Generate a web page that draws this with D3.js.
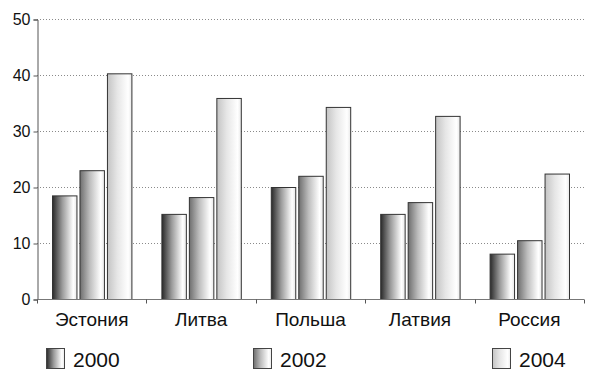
<!DOCTYPE html>
<html>
<head>
    <meta charset="utf-8">
    <script src="https://d3js.org/d3.v7.min.js"></script>
    <style>
        body { margin: 0; background: white; }
        svg { display: block; font-family: 'Liberation Sans', Arial, sans-serif; }
    </style>
</head>
<body>
    <svg width="600" height="377"></svg>

<script>
    let countries = ["Эстония", "Литва", "Польша", "Латвия", "Россия"];
    let years = ["2000", "2002", "2004"];
    let v2000 = [18.5, 15.2, 20.0, 15.2, 8.1];
    let v2002 = [23.0, 18.2, 22.0, 17.3, 10.5];
    let v2004 = [40.3, 35.9, 34.3, 32.7, 22.4];
    let yTicks = [0, 10, 20, 30, 40, 50];

    let series = [v2000, v2002, v2004];
    let rows = countries.map((c, i) => ({ country: c, values: series.map(s => s[i]) }));

    let margin = { top: 19, right: 16, bottom: 78, left: 37 };
    let width = 600, height = 377;

    let svg = d3.select("svg");

    // gradients: dark-ish on the left, fading to white on the right
    let grads = [
        { id: "g2000", from: "#2a2a2a", mid: "#9a9a9a" },
        { id: "g2002", from: "#6e6e6e", mid: "#bdbdbd" },
        { id: "g2004", from: "#c4c4c4", mid: "#e6e6e6" }
    ];
    let defs = svg.append("defs");
    grads.forEach(g => {
        let lg = defs.append("linearGradient").attr("id", g.id)
            .attr("x1", "0%").attr("x2", "100%").attr("y1", "0%").attr("y2", "0%");
        lg.append("stop").attr("offset", "0%").attr("stop-color", g.from);
        lg.append("stop").attr("offset", "40%").attr("stop-color", g.mid);
        lg.append("stop").attr("offset", "85%").attr("stop-color", "#ffffff");
        lg.append("stop").attr("offset", "100%").attr("stop-color", "#e8e8e8");
    });

    let x0 = d3.scaleBand()
        .domain(countries)
        .range([margin.left, width - margin.right]);

    let x1 = d3.scaleBand()
        .domain(years)
        .range([15, x0.bandwidth() - 15])
        .paddingInner(0.11);

    let y = d3.scaleLinear()
        .domain([0, 50])
        .range([height - margin.bottom, margin.top]);

    // dotted gridlines
    svg.append("g")
        .selectAll("line")
        .data(yTicks.filter(d => d > 0))
        .join("line")
        .attr("x1", margin.left)
        .attr("x2", width - margin.right)
        .attr("y1", d => y(d) + 0.5)
        .attr("y2", d => y(d) + 0.5)
        .style("stroke", "#8a8a8a")
        .style("stroke-width", 1)
        .style("stroke-dasharray", "1,2");

    // bars
    svg.append("g")
        .selectAll("g")
        .data(rows)
        .join("g")
        .attr("transform", d => `translate(${x0(d.country)},0)`)
        .selectAll("rect")
        .data(d => d.values.map((v, i) => ({ year: years[i], value: v, i: i })))
        .join("rect")
        .attr("x", d => x1(d.year) + 0.5)
        .attr("y", d => y(d.value) + 0.5)
        .attr("width", x1.bandwidth())
        .attr("height", d => y(0) - y(d.value))
        .style("fill", d => `url(#${grads[d.i].id})`)
        .style("stroke", "#333")
        .style("stroke-width", 1);

    // y axis
    let yAxis = svg.append("g")
        .attr("transform", `translate(${margin.left + 0.5},0.5)`)
        .call(d3.axisLeft(y).tickValues(yTicks).tickSize(4).tickPadding(3));
    yAxis.select(".domain").attr("stroke", "#555");
    yAxis.selectAll(".tick line").attr("stroke", "#555");
    yAxis.selectAll("text")
        .attr("font-size", "16px")
        .attr("fill", "#111")
        .attr("font-family", "'Liberation Sans', Arial, sans-serif");

    // x axis: ticks between categories
    let xAxis = svg.append("g")
        .attr("transform", `translate(0,${y(0) + 0.5})`);
    xAxis.append("line")
        .attr("x1", margin.left)
        .attr("x2", width - margin.right)
        .style("stroke", "#777");
    xAxis.selectAll(".sep")
        .data(countries.map(c => x0(c)).concat([x0(countries[countries.length - 1]) + x0.bandwidth()]))
        .join("line")
        .attr("class", "sep")
        .attr("x1", d => Math.round(d) + 0.5)
        .attr("x2", d => Math.round(d) + 0.5)
        .attr("y1", 0)
        .attr("y2", 4)
        .style("stroke", "#555");
    xAxis.selectAll("text")
        .data(countries)
        .join("text")
        .attr("x", d => x0(d) + x0.bandwidth() / 2)
        .attr("y", 26)
        .attr("text-anchor", "middle")
        .attr("font-size", "19px")
        .attr("fill", "#111")
        .text(d => d);

    // legend
    let legendX = [46, 253, 492];
    let legend = svg.append("g")
        .selectAll("g")
        .data(years)
        .join("g")
        .attr("transform", (d, i) => `translate(${legendX[i]},348)`);
    legend.append("rect")
        .attr("x", 0.5)
        .attr("y", 0.5)
        .attr("width", 18)
        .attr("height", 20)
        .style("fill", (d, i) => `url(#${grads[i].id})`)
        .style("stroke", "#444");
    legend.append("text")
        .attr("x", 27)
        .attr("y", 19)
        .attr("font-size", "21px")
        .attr("fill", "#111")
        .text(d => d);
</script>
</body>
</html>
